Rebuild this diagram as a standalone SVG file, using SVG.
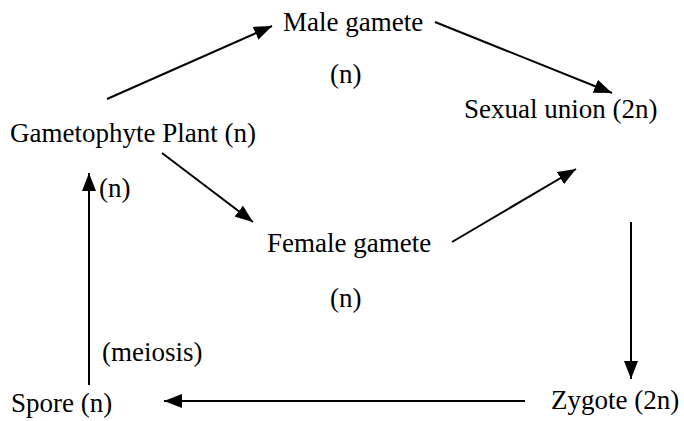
<svg xmlns="http://www.w3.org/2000/svg" width="684" height="421" viewBox="0 0 684 421">
<style>
text { font-family: "Liberation Serif", "Times New Roman", serif; font-size: 27px; fill: #000; }
.c line { stroke: #000; stroke-width: 2; marker-end: url(#ah); }
</style>
<defs>
<marker id="ah" markerUnits="userSpaceOnUse" markerWidth="20" markerHeight="14" refX="18" refY="7" orient="auto">
<path d="M0,0 L18,7 L0,14 Z" fill="#000"/>
</marker>
</defs>
<rect width="684" height="421" fill="#fff"/>
<g id="male"><text x="283" y="31">Male gamete</text><text x="330" y="83">(n)</text></g>
<g id="gametophyte"><text x="10" y="142">Gametophyte Plant (n)</text></g>
<g id="sexual"><text x="464" y="118">Sexual union (2n)</text></g>
<g id="female"><text x="267" y="252">Female gamete</text><text x="330" y="307">(n)</text></g>
<g id="spore"><text x="11" y="412">Spore (n)</text></g>
<g id="zygote"><text x="551" y="409">Zygote (2n)</text></g>
<g id="labels"><text x="99" y="197">(n)</text><text x="102" y="361">(meiosis)</text></g>
<g class="c" id="connectors">
<line x1="107" y1="99" x2="272" y2="26"/>
<line x1="435" y1="22" x2="612" y2="93"/>
<line x1="162" y1="153" x2="253" y2="222"/>
<line x1="452" y1="242" x2="576" y2="169"/>
<line x1="631" y1="222" x2="631" y2="379"/>
<line x1="525" y1="401" x2="164" y2="401"/>
<line x1="89" y1="385" x2="89" y2="173"/>
</g>
</svg>
